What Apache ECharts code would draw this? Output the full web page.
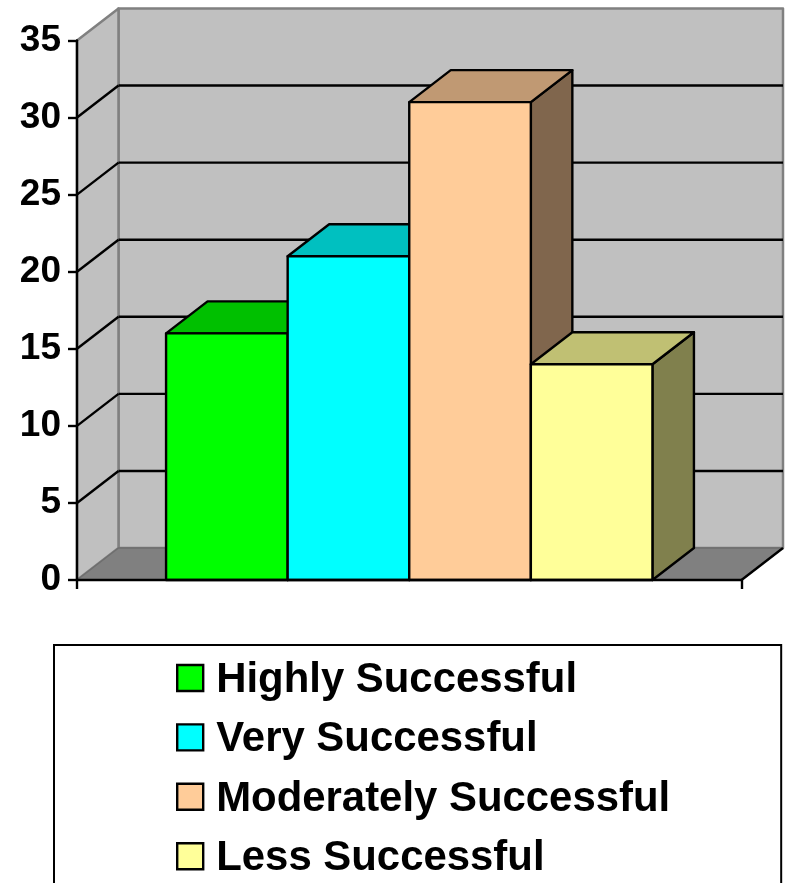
<!DOCTYPE html>
<html>
<head>
<meta charset="utf-8">
<style>html,body{margin:0;padding:0;background:#fff;overflow:hidden}#c{width:787px;height:883px}</style>
<script src="https://cdn.jsdelivr.net/npm/echarts@6/dist/echarts.min.js"></script>
</head>
<body>
<div id="c"></div>
<script>
var categories = [''];
var seriesNames = ['Highly Successful', 'Very Successful', 'Moderately Successful', 'Less Successful'];
var seriesValues = [16, 21, 31, 14];
var frontColors = ['#00FF00', '#00FFFF', '#FFCC99', '#FFFF99'];
var topColors = ['#00C000', '#00C0C0', '#C09973', '#C0C073'];
var sideColors = ['#008000', '#008080', '#80664D', '#80804D'];
var gridTicks = [5, 10, 15, 20, 25, 30];
var yMax = 35;
var depthX = 41.5, depthY = -32;
var barFraction = 121.5 / 664;

var chart = echarts.init(document.getElementById('c'), null, {renderer: 'canvas'});

function poly(pts, fill, stroke, w, z2) {
  return {type: 'polygon', z2: z2 || 0, shape: {points: pts}, style: {fill: fill, stroke: stroke, lineWidth: w, lineJoin: 'round'}};
}
function seg(a, b, stroke, w, z2) {
  return {type: 'line', z2: z2 || 0, shape: {x1: a[0], y1: a[1], x2: b[0], y2: b[1]}, style: {stroke: stroke, lineWidth: w}};
}

function renderWalls(params, api) {
  var c0 = api.coord([0, 0]);
  var cT = api.coord([0, yMax]);
  var w = api.size([1, 0])[0];
  var xL = c0[0] - w / 2, xR = c0[0] + w / 2;
  var yB = c0[1], yT = cT[1];
  var kids = [];
  kids.push(poly([[xL + depthX, yT + depthY], [xR + depthX, yT + depthY], [xR + depthX, yB + depthY], [xL + depthX, yB + depthY]], '#C0C0C0', '#808080', 2.5));
  kids.push(poly([[xL, yT], [xL + depthX, yT + depthY], [xL + depthX, yB + depthY], [xL, yB]], '#C0C0C0', '#808080', 2.5));
  kids.push(poly([[xL, yB], [xL + depthX, yB + depthY], [xR + depthX, yB + depthY], [xR, yB]], '#808080', '#6E6E6E', 1.5));
  kids.push(seg([xR, yB], [xR + depthX, yB + depthY], '#000', 2.4, 2));
  gridTicks.forEach(function (t) {
    var y = api.coord([0, t])[1];
    kids.push(seg([xL, y], [xL + depthX, y + depthY], '#000', 2.4, 2));
    kids.push(seg([xL + depthX, y + depthY], [xR + depthX, y + depthY], '#000', 2.4, 2));
  });
  return {type: 'group', children: kids};
}

function makeBarRender(i) {
  return function (params, api) {
    var base = api.coord([0, 0]);
    var topPt = api.coord([0, api.value(1)]);
    var bw = api.size([1, 0])[0] * barFraction;
    var x0 = base[0] + (i - seriesValues.length / 2) * bw;
    var x1 = x0 + bw;
    var yb = base[1], yt = topPt[1];
    return {type: 'group', children: [
      poly([[x1, yb], [x1 + depthX, yb + depthY], [x1 + depthX, yt + depthY], [x1, yt]], sideColors[i], '#000', 2.4),
      poly([[x0, yt], [x0 + depthX, yt + depthY], [x1 + depthX, yt + depthY], [x1, yt]], topColors[i], '#000', 2.4),
      poly([[x0, yb], [x0, yt], [x1, yt], [x1, yb]], frontColors[i], '#000', 2.4)
    ]};
  };
}

var series = [{
  type: 'custom', name: 'walls', silent: true, z: 1,
  renderItem: renderWalls, data: [[0, 0]], encode: {x: 0, y: 1}
}];
seriesNames.forEach(function (n, i) {
  series.push({
    type: 'custom', name: n, z: 2 + i,
    itemStyle: {color: frontColors[i]},
    renderItem: makeBarRender(i),
    data: [[0, seriesValues[i]]],
    encode: {x: 0, y: 1}
  });
});

chart.setOption({
  animation: false,
  backgroundColor: '#fff',
  textStyle: {fontFamily: 'Liberation Sans'},
  grid: {left: 77, right: 45.5, top: 40.5, height: 539.5, containLabel: false},
  xAxis: {
    type: 'category', data: categories, z: 20,
    axisLine: {show: true, lineStyle: {color: '#000', width: 2.4}},
    axisTick: {show: true, length: 9, lineStyle: {color: '#000', width: 2.4}},
    axisLabel: {show: false}
  },
  yAxis: {
    type: 'value', min: 0, max: yMax, interval: 5, z: 20,
    splitLine: {show: false},
    axisLine: {show: true, lineStyle: {color: '#000', width: 2.4}},
    axisTick: {show: true, length: 9, lineStyle: {color: '#000', width: 2.4}},
    axisLabel: {color: '#000', fontFamily: 'Liberation Sans', fontWeight: 'bold', fontSize: 37, margin: 16, padding: [4, 0, 0, 0]}
  },
  legend: {
    data: seriesNames,
    orient: 'vertical', left: 54, top: 645, height: 400,
    icon: 'rect', itemWidth: 26, itemHeight: 26, itemGap: 17.4,
    padding: [14.5, 111, 30, 122],
    selectedMode: false,
    backgroundColor: '#fff', borderColor: '#000', borderWidth: 2, borderRadius: 0,
    itemStyle: {borderColor: '#000', borderWidth: 2.4},
    formatter: function (name) { return '{a|' + name + '}'; },
    textStyle: {
      color: '#000', fontFamily: 'Liberation Sans', fontWeight: 'bold', fontSize: 41.9,
      rich: {a: {color: '#000', fontFamily: 'Liberation Sans', fontWeight: 'bold', fontSize: 41.9, padding: [5, 0, 0, 8]}}
    }
  },
  series: series
});
</script>
</body>
</html>
